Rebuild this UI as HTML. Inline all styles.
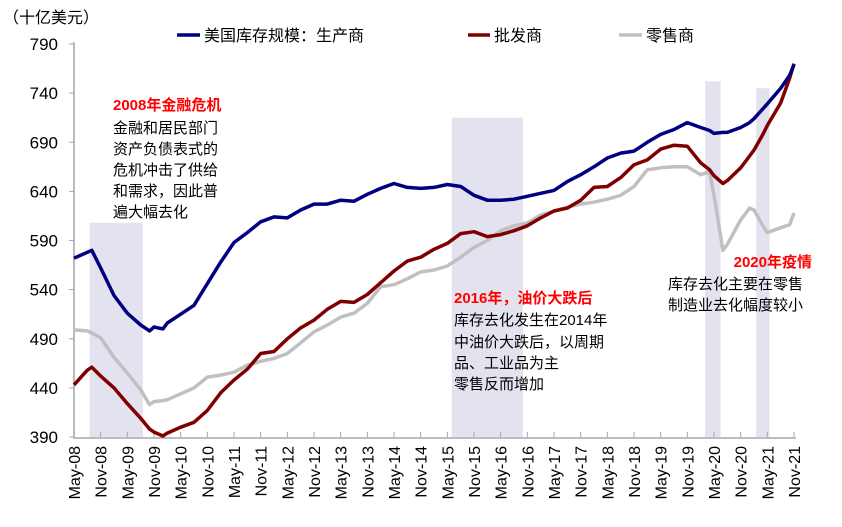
<!DOCTYPE html>
<html><head><meta charset="utf-8"><style>
body{margin:0;background:#fff;}
svg{display:block;font-family:"Liberation Sans","Noto Sans CJK SC",sans-serif;}
</style></head><body>
<svg id="c" width="842" height="527"></svg>
<script>
const months=[0,3,4,6,9,12,15,17,18,20,21,24,27,30,33,36,39,42,45,48,51,54,57,60,63,66,69,72,75,78,81,84,87,90,93,96,99,102,105,108,111,114,117,120,123,126,129,132,135,138,141,143,144,146,147,150,152,153,155,156,159,161,162];
const manufacturer=[572,578,580,562,534,516,504,498,502,500,506,515,524,546,568,588,598,609,614,613,621,627,627,631,630,637,643,648,644,643,644,647,645,636,631,631,632,635,638,641,650,657,665,674,679,681,690,698,703,710,705,702,699,700,700,705,710,714,724,729,745,758,769];
const wholesaler=[443,458,461,452,440,424,409,398,395,391,394,400,405,417,435,448,459,475,477,490,501,509,520,528,527,535,547,559,569,573,581,587,597,599,594,596,600,605,613,620,623,631,644,645,654,667,672,683,687,686,669,662,656,648,651,664,676,682,698,707,730,755,770];
const retailer=[499,498,496,491,471,455,438,423,426,427,428,434,440,451,453,456,463,467,470,475,486,497,504,512,516,526,543,545,551,558,560,564,573,583,590,600,605,608,616,620,624,627,629,632,636,645,662,664,665,665,657,660,636,580,586,611,623,621,605,598,603,606,618];
const yTicks=[390,440,490,540,590,640,690,740,790];
const xTickLabels=["May-08","Nov-08","May-09","Nov-09","May-10","Nov-10","May-11","Nov-11","May-12","Nov-12","May-13","Nov-13","May-14","Nov-14","May-15","Nov-15","May-16","Nov-16","May-17","Nov-17","May-18","Nov-18","May-19","Nov-19","May-20","Nov-20","May-21","Nov-21"];
const shadeMonths=[[3.5,15.5],[85,101],[142,145.5],[153.5,156.5]];
const shadeTops=[608,715,752,745];

const X0=74,X1=794,Y0=437,Y1=44;
const x=m=>X0+(X1-X0)*m/162;
const y=v=>Y0-(Y0-Y1)*(v-390)/400;
const NS="http://www.w3.org/2000/svg";
const svg=document.getElementById('c');
function mk(t,a,p){const e=document.createElementNS(NS,t);for(const k in a)e.setAttribute(k,a[k]);(p||svg).appendChild(e);return e;}

shadeMonths.forEach((s,i)=>{
 const r=mk('rect',{x:x(s[0]),y:y(shadeTops[i]),width:x(s[1])-x(s[0]),height:Y0-y(shadeTops[i]),fill:'#e3e3ef'});
 
 
});
const ax=mk('path',{d:`M${X0},${Y1-2}V${Y0+1}H${X1+2}`,stroke:'#a6a6a6','stroke-width':1.5,fill:'none'});


yTicks.forEach(v=>{
 mk('line',{x1:X0-5,x2:X0,y1:y(v),y2:y(v),stroke:'#a6a6a6'});
 const t=mk('text',{x:58,y:y(v)+6,'text-anchor':'end','font-size':17,fill:'#000'});t.textContent=v;
 
 
});
xTickLabels.forEach((l,i)=>{
 const xm=x(i*6);
 mk('line',{x1:xm,x2:xm,y1:Y0-5,y2:Y0,stroke:'#a6a6a6'});
 const t=mk('text',{x:0,y:0,transform:`translate(${xm+6},446) rotate(-90)`,'text-anchor':'end','font-size':16,fill:'#000'});t.textContent=l;
 
 
});
function line(vals,col,name){
 const d=vals.map((v,i)=>(i?'L':'M')+x(months[i]).toFixed(1)+','+y(v).toFixed(1)).join('');
 const p=mk('path',{d,stroke:col,'stroke-width':3.5,fill:'none','stroke-linejoin':'round'});
 
 
}
line(retailer,'#c0c0c0','retailer-line');
line(wholesaler,'#800000','wholesaler-line');
line(manufacturer,'#000080','manufacturer-line');
</script>
<svg style="position:absolute;left:0;top:0" width="842" height="527" font-family="Liberation Sans,Noto Sans CJK SC,sans-serif">
<text x="3" y="23" font-size="16">（十亿美元）</text>
<g>
<line x1="177" x2="200" y1="35" y2="35" stroke="#000080" stroke-width="3.5"/>
<text x="204" y="41" font-size="16">美国库存规模：生产商</text>
<line x1="468" x2="490" y1="35" y2="35" stroke="#800000" stroke-width="3.5"/>
<text x="494" y="41" font-size="16">批发商</text>
<line x1="619" x2="642" y1="35" y2="35" stroke="#c0c0c0" stroke-width="3.5"/>
<text x="646" y="41" font-size="16">零售商</text>
</g>
<g font-size="15">
<text x="113" y="110" fill="#ff0000" font-weight="bold">2008年金融危机</text>
<text x="113" y="133">金融和居民部门</text>
<text x="113" y="154">资产负债表式的</text>
<text x="113" y="175">危机冲击了供给</text>
<text x="113" y="196">和需求，因此普</text>
<text x="113" y="217">遍大幅去化</text>
</g>
<g font-size="15">
<text x="454" y="303" fill="#ff0000" font-weight="bold">2016年，油价大跌后</text>
<text x="454" y="325">库存去化发生在2014年</text>
<text x="454" y="347">中油价大跌后，以周期</text>
<text x="454" y="368">品、工业品为主</text>
<text x="454" y="389">零售反而增加</text>
</g>
<g font-size="15">
<text x="812" y="267" fill="#ff0000" font-weight="bold" text-anchor="end">2020年疫情</text>
<text x="668" y="289">库存去化主要在零售</text>
<text x="668" y="310">制造业去化幅度较小</text>
</g>
</svg>
</body></html>
